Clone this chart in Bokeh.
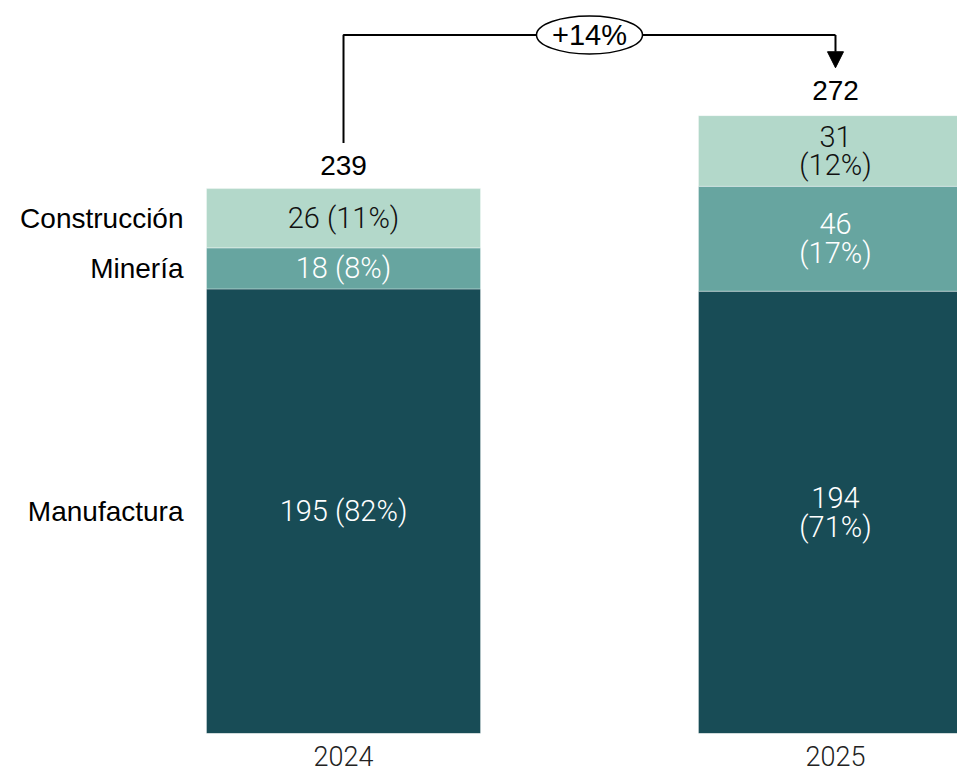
from bokeh.plotting import figure
from bokeh.models import ColumnDataSource, LinearAxis, FixedTicker, Arrow, NormalHead
from bokeh.core.properties import value
from bokeh.embed import file_html
from bokeh.resources import INLINE

# ---- data ----
years = ["2024", "2025"]
sectors = ["Manufactura", "Minería", "Construcción"]
manufactura = [195, 194]
mineria = [18, 46]
construccion = [26, 31]
totals = [239, 272]
manufactura_pct = ["82%", "71%"]
mineria_pct = ["8%", "17%"]
construccion_pct = ["11%", "12%"]
label_sep = [" ", "\n"]

colors = ["#184c56", "#67a5a0", "#b3d8ca"]
text_colors = ["white", "white", "#111111"]

xs = [0, 1]
BAR_W = 0.557
LIGHT = "Roboto Light"
REG = "Liberation Sans"

p = figure(width=957, height=773, x_range=(-0.6972, 1.248), y_range=(0, 321.5),
           output_backend="svg", toolbar_location=None,
           x_axis_type=None, y_axis_type=None,
           min_border_left=0, min_border_right=0, min_border_top=0, min_border_bottom=40)
p.outline_line_color = None
p.xgrid.visible = False
p.ygrid.visible = False

src = ColumnDataSource(dict(x=xs, Manufactura=manufactura, Minería=mineria, Construcción=construccion))
p.vbar_stack(sectors, x="x", width=BAR_W, color=colors, source=src,
             line_color="white", line_width=0.6, line_alpha=0.6)

# segment labels
series = [manufactura, mineria, construccion]
pcts = [manufactura_pct, mineria_pct, construccion_pct]
for i in range(2):
    bottom = 0
    for s in range(3):
        v = series[s][i]
        p.text(x=[xs[i]], y=[bottom + v / 2], text=[f"{v}{label_sep[i]}({pcts[s][i]})"],
               text_align="center", text_baseline="middle", text_font=value(LIGHT),
               text_font_size="29px", text_color=text_colors[s], text_line_height=0.85)
        bottom += v

# category labels left of the 2024 bar
bottom = 0
for s in range(3):
    v = series[s][0]
    p.text(x=[xs[0] - BAR_W / 2], y=[bottom + v / 2], text=[sectors[s]], x_offset=-23,
           text_align="right", text_baseline="middle", text_font=value(REG),
           text_font_size="28px", text_color="black")
    bottom += v

# totals
p.text(x=xs, y=totals, text=[str(t) for t in totals], y_offset=-23,
       text_align="center", text_baseline="middle", text_font=value(REG),
       text_font_size="28px", text_color="black")

# connector
OFS = 20
TOP = 306.4
p.line(x=[xs[0], xs[0], xs[1], xs[1]], y=[totals[0] + OFS, TOP, TOP, TOP],
       line_color="black", line_width=2)
p.add_layout(Arrow(end=NormalHead(size=16, fill_color="black", line_color="black"),
                   x_start=xs[1], y_start=TOP, x_end=xs[1], y_end=totals[1] + OFS,
                   line_color="black", line_width=2))
mid = (xs[0] + xs[1]) / 2
p.ellipse(x=[mid], y=[TOP], width=106, height=38, width_units="screen", height_units="screen",
          fill_color="white", line_color="black", line_width=1.5)
growth = round((totals[1] / totals[0] - 1) * 100)
p.text(x=[mid], y=[TOP], text=[f"+{growth}%"], text_align="center", text_baseline="middle",
       text_font=value(REG), text_font_size="29px", text_color="black")

# x axis
xaxis = LinearAxis(ticker=FixedTicker(ticks=xs),
                   major_label_overrides={x: y for x, y in zip(xs, years)})
xaxis.axis_line_color = None
xaxis.major_tick_line_color = None
xaxis.minor_tick_line_color = None
xaxis.major_label_text_font = LIGHT
xaxis.major_label_text_font_size = "27px"
xaxis.major_label_text_color = "#222222"
xaxis.major_label_standoff = 6
p.add_layout(xaxis, "below")

open("out.html", "w").write(file_html(p, INLINE))
